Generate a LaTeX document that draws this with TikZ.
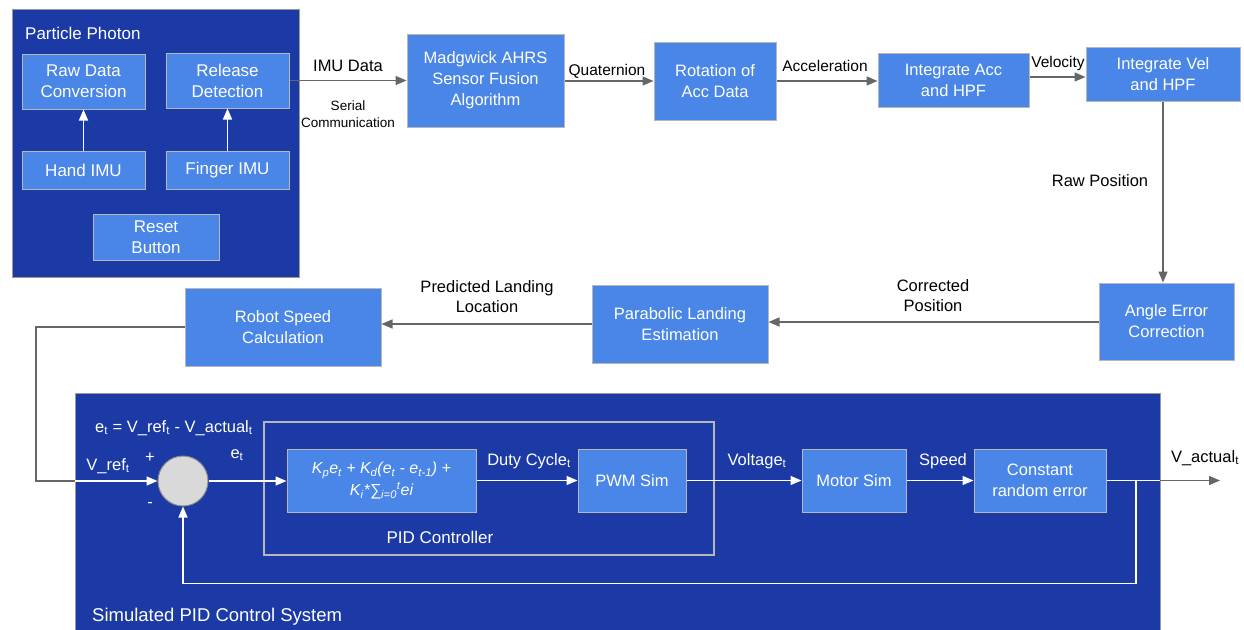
\documentclass[tikz,border=0pt]{standalone}
\usepackage{fontspec}
\setmainfont{Liberation Sans}
\usetikzlibrary{arrows.meta}
\definecolor{panelblue}{HTML}{1C3AA6}
\definecolor{boxblue}{HTML}{4A86E8}
\definecolor{boxline}{HTML}{B7B7B7}
\definecolor{arrowgrey}{HTML}{666666}
\definecolor{circfill}{HTML}{D9D9D9}
\definecolor{circline}{HTML}{8A8A8A}
\definecolor{panelline}{HTML}{9A9A9A}
\tikzset{
  panel/.style={fill=panelblue, draw=panelline, line width=1pt},
  bbox/.style={fill=boxblue, draw=boxline, line width=1pt, text=white, align=center, inner sep=0pt, font=\fontsize{16.5}{21}\selectfont},
  garrow/.style={draw=arrowgrey, line width=1.4pt, -{Triangle[length=11pt,width=9pt]}},
  warrow/.style={draw=white, line width=1.4pt, -{Triangle[length=11pt,width=9pt]}},
  wline/.style={draw=white, line width=1.4pt},
  gline/.style={draw=arrowgrey, line width=1.4pt},
  elabel/.style={text=black, font=\fontsize{15.5}{20}\selectfont, align=center, inner sep=0pt},
  blabel/.style={text=black, font=\fontsize{16.5}{20}\selectfont, align=center, inner sep=0pt},
  wlabel/.style={text=white, font=\fontsize{16.5}{20}\selectfont, align=center, inner sep=0pt},
}
\begin{document}
\begin{tikzpicture}[x=1pt,y=-1pt]
\useasboundingbox[fill=white] (0,0) rectangle (1244,629);

% ---------- Particle Photon panel ----------
\path[panel] (12,9) rectangle (299,277);
\node[wlabel, anchor=west, font=\fontsize{17}{20}\selectfont] (pptitle) at (25,33) {Particle Photon};
\node[bbox, font=\fontsize{17}{21}\selectfont, minimum width=123pt, minimum height=55pt] (raw) at (83.5,81.5) {Raw Data\\Conversion};
\node[bbox, font=\fontsize{17}{21}\selectfont, minimum width=123pt, minimum height=55pt] (release) at (227.5,80.5) {Release\\Detection};
\node[bbox, font=\fontsize{17}{21}\selectfont, minimum width=123pt, minimum height=38pt] (hand) at (83.5,170) {Hand IMU};
\node[bbox, font=\fontsize{17}{21}\selectfont, minimum width=123pt, minimum height=38pt] (finger) at (227.5,170) {Finger IMU};
\node[bbox, font=\fontsize{17}{21}\selectfont, minimum width=126pt, minimum height=46pt] (reset) at (156,237) {Reset\\Button};
\draw[warrow] (hand.north) -- (raw.south);
\draw[warrow] (finger.north) -- (release.south);

% ---------- top row ----------
\node[bbox, minimum width=157pt, minimum height=93pt] (madg) at (485.5,80.5) {Madgwick AHRS\\Sensor Fusion\\Algorithm};
\node[bbox, minimum width=122pt, minimum height=78pt] (rot) at (715,81) {Rotation of\\Acc Data};
\node[bbox, minimum width=151pt, minimum height=54pt] (intacc) at (953.5,80) {Integrate Acc\\and HPF};
\node[bbox, minimum width=154pt, minimum height=54pt] (intvel) at (1163,74) {Integrate Vel\\and HPF};

\draw[garrow] (release.east) -- (release.east -| madg.west);
\node[blabel, font=\fontsize{16.5}{20}\selectfont] (limu) at (348,66) {IMU Data};
\node[elabel, font=\fontsize{13.5}{17}\selectfont] (lser) at (348,114.5) {Serial\\Communication};

\draw[garrow] (madg.east |- rot.west) -- (rot.west);
\node[elabel] (lquat) at (607,71) {Quaternion};

\draw[garrow] (rot.east) -- (rot.east -| intacc.west);
\node[elabel] (lacc) at (825,66) {Acceleration};

\draw[garrow] ([yshift=3pt]intacc.east) -- ([yshift=3pt]intacc.east -| intvel.west);
\node[elabel] (lvel) at (1058,63) {Velocity};

% ---------- middle row ----------
\node[bbox, minimum width=135pt, minimum height=77pt] (angle) at (1166.5,321.5) {Angle Error\\Correction};
\node[bbox, minimum width=176pt, minimum height=78pt] (parab) at (680,324) {Parabolic Landing\\Estimation};
\node[bbox, minimum width=196pt, minimum height=78pt] (robot) at (283,327) {Robot Speed\\Calculation};

\draw[garrow] (intvel.south) -- (intvel.south |- angle.north);
\node[blabel] (lraw) at (1100,181) {Raw Position};

\draw[garrow] (angle.west |- 0,322) -- (parab.east |- 0,322);
\node[blabel] (lcorr) at (933,296) {Corrected\\Position};

\draw[garrow] (parab.west) -- (parab.west -| robot.east);
\node[blabel] (lpred) at (487,297) {Predicted Landing\\Location};

% ---------- Simulated PID panel ----------
\path[panel] (75,393) rectangle (1160,632);
\node[wlabel, anchor=west, font=\fontsize{18.5}{20}\selectfont] (simtitle) at (92,617) {Simulated PID Control System};
\node[wlabel, anchor=west] (eqn) at (95,428) {e\textsubscript{t} = V\_ref\textsubscript{t} - V\_actual\textsubscript{t}};

\draw[draw=boxline, line width=1.2pt] (264,422) rectangle (714,555);
\node[wlabel, font=\fontsize{17}{20}\selectfont] (pidlabel) at (440,537) {PID Controller};

\node[circle, fill=circfill, draw=circline, line width=1pt, minimum size=50pt, inner sep=0pt] (sum) at (183,481) {};
\node[bbox, font=\fontsize{16}{22}\selectfont\itshape, minimum width=189pt, minimum height=63pt] (pidf) at (381.5,480.5)
  {K\textsubscript{p}e\textsubscript{t} + K\textsubscript{d}(e\textsubscript{t} - e\textsubscript{t-1}) +\\K\textsubscript{i}*∑\textsubscript{i=0}\textsuperscript{t}ei};
\node[bbox, minimum width=108pt, minimum height=63pt] (pwm) at (632,480.5) {PWM Sim};
\node[bbox, minimum width=104pt, minimum height=63pt] (motor) at (854,480.5) {Motor Sim};
\node[bbox, minimum width=132pt, minimum height=63pt] (const) at (1040,480.5) {Constant\\random error};

\node[wlabel] (lvref) at (108,466) {V\_ref\textsubscript{t}};
\node[wlabel] (lplus) at (150,458) {+};
\node[wlabel] (lminus) at (150,505) {-};
\node[wlabel] (let) at (237,455) {e\textsubscript{t}};
\node[wlabel] (lduty) at (529,461) {Duty Cycle\textsubscript{t}};
\node[wlabel] (lvolt) at (757,461) {Voltage\textsubscript{t}};
\node[wlabel] (lspeed) at (943,461) {Speed};
\node[blabel] (lvact) at (1205,458) {V\_actual\textsubscript{t}};

\coordinate (inl) at (36,481);
\coordinate (pin) at (75,481);
\coordinate (fb) at (1136,480.5);
\coordinate (pout) at (1160,480.5);
\coordinate (vend) at (1220,480.5);

\draw[gline] (robot.west) -| (inl) -- (pin);
\draw[warrow] (pin) -- (sum.west);
\draw[warrow] (sum.east) -- (sum.east -| pidf.west);
\draw[warrow] (pidf.east) -- (pwm.west);
\draw[warrow] (pwm.east) -- (motor.west);
\draw[warrow] (motor.east) -- (const.west);
\draw[wline] (const.east) -- (pout);
\draw[garrow] (pout) -- (vend);
\draw[warrow] (fb) -- ++(0,103) -| (sum.south);
\end{tikzpicture}
\end{document}
